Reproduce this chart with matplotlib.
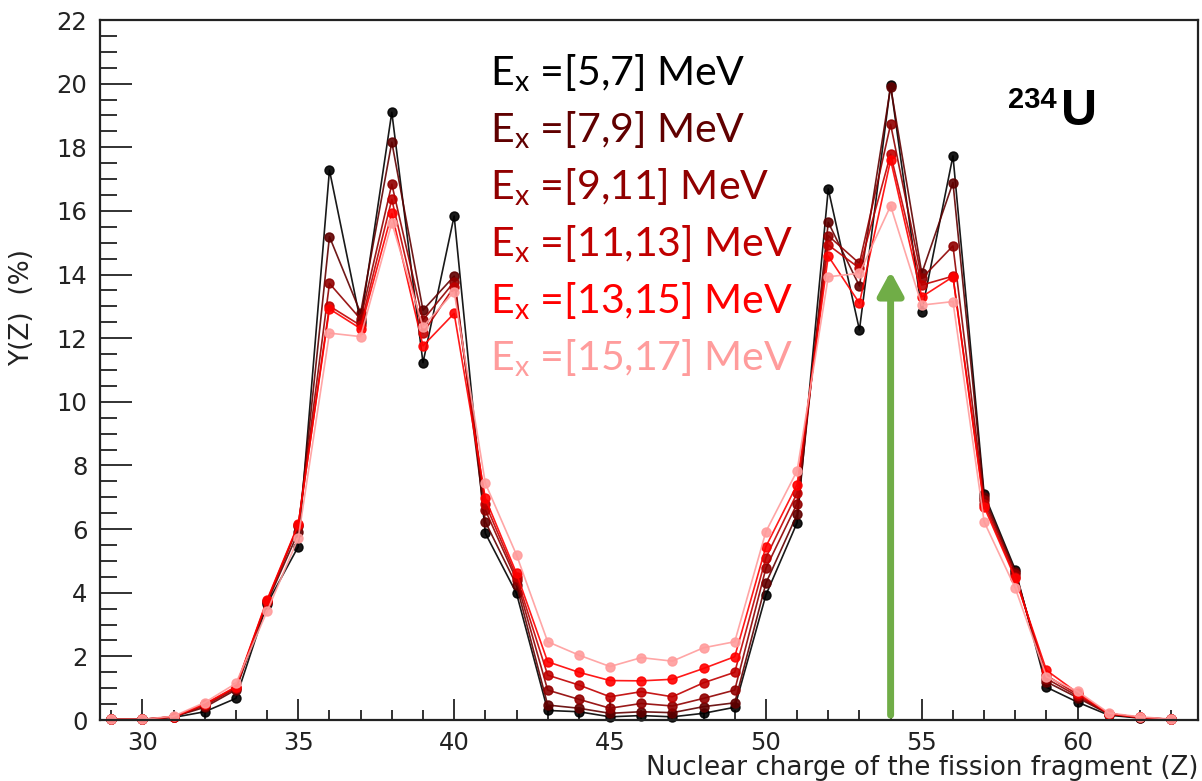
import matplotlib
matplotlib.use("Agg")
import matplotlib.pyplot as plt
from matplotlib.ticker import MultipleLocator

# Z of the fission fragment
z = list(range(29, 64))

# Y(Z) in % for each excitation energy bin
y_5_7 = [0.02, 0.02, 0.08, 0.26, 0.68, 3.65, 5.45, 17.28, 12.5, 19.1, 11.23, 15.84, 5.87, 3.98, 0.3,
         0.26, 0.1, 0.14, 0.1, 0.21, 0.4, 3.93, 6.2, 16.69, 12.26, 19.96, 12.83, 17.73, 7.1, 4.72,
         1.03, 0.56, 0.15, 0.06, 0.02]
y_7_9 = [0.02, 0.02, 0.1, 0.4, 0.95, 3.7, 5.9, 15.19, 12.79, 18.16, 12.88, 13.95, 6.23, 4.24, 0.47,
         0.37, 0.21, 0.26, 0.23, 0.42, 0.54, 4.3, 6.46, 15.64, 13.64, 19.9, 14.04, 16.89, 7.0, 4.65,
         1.2, 0.7, 0.18, 0.07, 0.02]
y_9_11 = [0.02, 0.02, 0.1, 0.45, 1.0, 3.72, 6.1, 13.72, 12.6, 16.84, 12.57, 13.77, 6.6, 4.4, 0.94,
          0.65, 0.37, 0.52, 0.44, 0.68, 0.94, 4.77, 6.8, 15.22, 14.35, 18.72, 13.88, 14.9, 6.9, 4.6,
          1.3, 0.75, 0.2, 0.08, 0.02]
y_11_13 = [0.02, 0.02, 0.1, 0.5, 1.02, 3.75, 6.12, 13.01, 12.4, 16.36, 12.16, 13.62, 6.8, 4.5, 1.41,
           1.1, 0.73, 0.89, 0.73, 1.17, 1.5, 5.1, 7.13, 14.93, 14.2, 17.78, 13.67, 13.95, 6.8, 4.5,
           1.4, 0.8, 0.2, 0.08, 0.02]
y_13_15 = [0.02, 0.02, 0.1, 0.5, 1.05, 3.78, 6.15, 12.92, 12.3, 15.92, 11.76, 12.78, 6.97, 4.61, 1.83,
           1.5, 1.24, 1.23, 1.28, 1.62, 1.99, 5.45, 7.4, 14.58, 13.1, 17.6, 13.3, 13.93, 6.7, 4.45,
           1.56, 0.85, 0.2, 0.08, 0.02]
y_15_17 = [0.02, 0.02, 0.12, 0.55, 1.15, 3.42, 5.72, 12.16, 12.05, 15.62, 12.36, 13.46, 7.44, 5.19, 2.46,
           2.04, 1.68, 1.96, 1.85, 2.27, 2.46, 5.92, 7.83, 13.93, 14.04, 16.16, 13.04, 13.15, 6.23, 4.14,
           1.36, 0.9, 0.22, 0.1, 0.03]

serie = [y_5_7, y_7_9, y_9_11, y_11_13, y_13_15, y_15_17]
etykiety = ["[5,7]", "[7,9]", "[9,11]", "[11,13]", "[13,15]", "[15,17]"]
kolory = ["#000000", "#600000", "#900000", "#C00000", "#FF0000", "#FF9C9C"]

arrow_z = 54
arrow_top = 14.1


def rysuj():
    fig = plt.figure(figsize=(12.02, 7.81), dpi=100)
    ax = fig.add_axes([100 / 1202, 1 - 720 / 781, 1098 / 1202, 700 / 781])

    for y, kolor in zip(serie, kolory):
        ax.plot(z, y, color=kolor, lw=1.2, marker="o", ms=6.5, mec=kolor, mfc=kolor,
                alpha=0.9, clip_on=False)

    # green arrow at Z=54
    ax.annotate("", xy=(arrow_z, arrow_top), xytext=(arrow_z, 0.15),
                arrowprops=dict(arrowstyle="-|>,head_width=0.38,head_length=0.7",
                                mutation_scale=20, lw=5, color="#70AD47",
                                shrinkA=0, shrinkB=0))

    ax.set_xlim(28.64, 63.86)
    ax.set_ylim(0, 22)
    ax.xaxis.set_major_locator(MultipleLocator(5))
    ax.xaxis.set_minor_locator(MultipleLocator(1))
    ax.yaxis.set_major_locator(MultipleLocator(2))
    ax.yaxis.set_minor_locator(MultipleLocator(0.5))
    ax.tick_params(axis="both", which="both", direction="in", top=False, right=False,
                   width=1.3, colors="#222222", labelsize=17.5)
    ax.tick_params(axis="y", which="major", length=23, pad=9)
    ax.tick_params(axis="y", which="minor", length=12)
    ax.tick_params(axis="x", which="major", length=15, pad=8)
    ax.tick_params(axis="x", which="minor", length=7)
    for lab in ax.get_xticklabels() + ax.get_yticklabels():
        lab.set_fontfamily("DejaVu Sans")
    for s in ax.spines.values():
        s.set_linewidth(1.6)
        s.set_color("#222222")

    ax.set_ylabel("Y(Z)  (%)", fontsize=19, family="DejaVu Sans", color="#222222")
    ax.yaxis.set_label_coords(-0.059, 0.59)
    fig.text(1199 / 1202, 1 - 775 / 781, "Nuclear charge of the fission fragment (Z)",
             ha="right", va="baseline", fontsize=18.8, family="DejaVu Sans", color="#222222")

    # legend as coloured text lines
    for i, (etykieta, kolor) in enumerate(zip(etykiety, kolory)):
        fig.text(490 / 1202, 1 - (85 + 57 * i) / 781,
                 r"E$_\mathregular{x}$ =" + etykieta + " MeV",
                 ha="left", va="baseline", fontsize=29.5, family="Lato", color=kolor)

    fig.text(1008 / 1202, 1 - 108 / 781, "234", ha="left", va="baseline",
             fontsize=21, fontweight="bold", family="Liberation Sans")
    fig.text(1061 / 1202, 1 - 125 / 781, "U", ha="left", va="baseline",
             fontsize=36, fontweight="bold", family="Liberation Sans")

    fig.savefig("out.png", dpi=100)


if __name__ == "__main__":
    rysuj()
